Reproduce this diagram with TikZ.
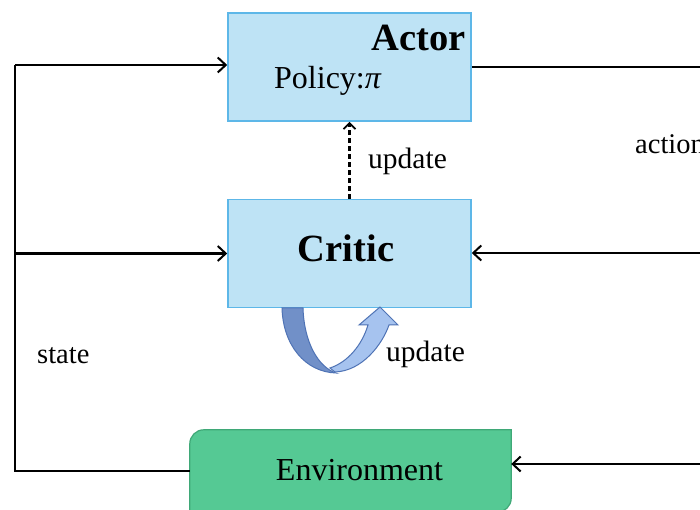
\documentclass[tikz,border=0pt]{standalone}
\usepackage{fontspec}
\setmainfont{Liberation Serif}
\usetikzlibrary{arrows.meta}
\definecolor{boxfill}{HTML}{BEE3F5}
\definecolor{boxline}{HTML}{5DB7E8}
\definecolor{envfill}{HTML}{55C994}
\definecolor{envline}{HTML}{3FA877}
\definecolor{loopdark}{HTML}{7190C8}
\definecolor{looplight}{HTML}{A6C3EF}
\definecolor{loopedge}{HTML}{4F73B5}
\tikzset{
  agent/.style={rectangle, fill=boxfill, draw=boxline, line width=1.6pt,
    minimum width=243pt, minimum height=108pt, inner sep=0pt},
  flow/.style={line width=2.1pt, black},
  arr/.style={flow, -{Straight Barb[length=8pt,width=15pt,line width=2pt]}},
  lbl/.style={font=\fontsize{28.5}{30}\selectfont, inner sep=0pt},
  big/.style={font=\fontsize{38.5}{40}\selectfont\bfseries, inner sep=0pt},
}
\begin{document}
\begin{tikzpicture}[x=1pt,y=1pt]
\clip (0,0) rectangle (700,510);
\fill[white] (0,0) rectangle (700,510);

% Actor and Critic boxes
\node[agent] (actor) at (349.5,443) {};
\node[agent] (critic) at (349.5,256.5) {};
\node[big, anchor=base] (actorlbl) at (419,459) {Actor};
\node[lbl, font=\fontsize{32}{34}\selectfont, anchor=base west] (policy) at (274,421) {Policy:\textit{π}};
\node[big, anchor=base] (criticlbl) at (346,248) {Critic};

% Environment box: rounded top-left and bottom-right corners
\node[rectangle, minimum width=321pt, minimum height=82pt, inner sep=0pt] (env) at (350.5,39) {};
\path[fill=envfill, draw=envline, line width=1.2pt]
  ([yshift=14pt]env.south west) -- ([yshift=-14pt]env.north west)
  arc[start angle=180, end angle=90, radius=14pt]
  -- (env.north east) -- ([yshift=14pt]env.south east)
  arc[start angle=0, end angle=-90, radius=14pt]
  -- (env.south west) -- cycle;
\node[lbl, font=\fontsize{32}{34}\selectfont, anchor=base] (envlbl) at (359.5,29) {Environment};

% State feedback on the left
\coordinate (lb) at (15,39);
\coordinate (lt) at (15,445);
\draw[flow] (env.west) -- (lb) -- (lt);
\draw[arr] (lt) -- (lt -| actor.west);
\draw[arr] (lb |- critic.west) -- (critic.west);

% Action path on the right
\coordinate (ra) at (702,443);
\coordinate (rc) at (702,257);
\coordinate (re) at (702,46);
\draw[flow] (actor.east) -- (ra);
\draw[arr] (rc) -- (rc -| critic.east);
\draw[arr] (re) -- (re -| env.east);

% Critic updates Actor
\draw[flow, line width=2.1pt, dash pattern=on 5pt off 3pt,
  -{Straight Barb[length=6pt,width=12pt,line width=1.8pt]}] (critic.north) -- (actor.south);

% Critic self-update loop arrow
\path[fill=looplight, draw=loopedge, line width=1pt]
  (335,138) .. controls (362,139) and (382,165) .. (389,185)
  -- (398,185) -- (380,203) -- (359,185) -- (368,185)
  .. controls (362,165) and (348,148) .. (330,142) -- cycle;
\path[fill=loopdark, draw=loopedge, line width=1pt]
  (282,202) .. controls (283,165) and (305,138) .. (336,137)
  .. controls (318,143) and (304,168) .. (303,202) -- cycle;

% Labels
\node[lbl, font=\fontsize{29.5}{31}\selectfont, anchor=base west] (upd1) at (368,341) {update};
\node[lbl, font=\fontsize{29.5}{31}\selectfont, anchor=base west] (upd2) at (386,148) {update};
\node[lbl, anchor=base west] (statelbl) at (37,146) {state};
\node[lbl, anchor=base west] (actionlbl) at (635,356) {action};
\end{tikzpicture}
\end{document}
